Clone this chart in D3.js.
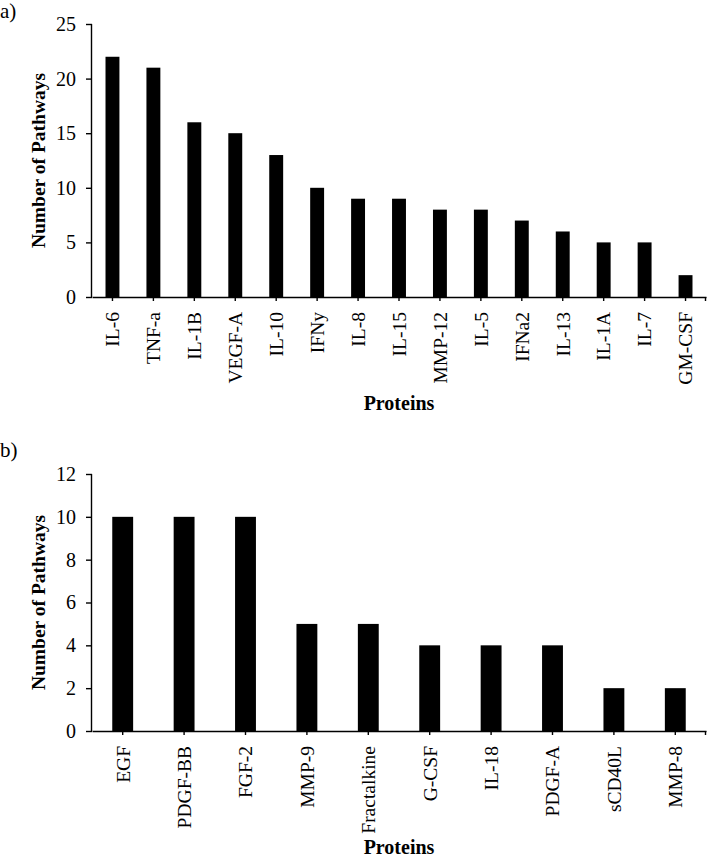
<!DOCTYPE html>
<html><head><meta charset="utf-8">
<script src="https://cdn.jsdelivr.net/npm/d3@7"></script>
<style>
body{margin:0;background:#fff;}
text{font-family:"Liberation Serif","Times New Roman",serif;fill:#000;}
</style></head>
<body><svg id="c" width="708" height="859"></svg>
<script>
const proteinsA = ["IL-6","TNF-a","IL-1B","VEGF-A","IL-10","IFNy","IL-8","IL-15","MMP-12","IL-5","IFNa2","IL-13","IL-1A","IL-7","GM-CSF"];
const pathwaysA = [22,21,16,15,13,10,9,9,8,8,7,6,5,5,2];
const ticksA = [0,5,10,15,20,25];

const proteinsB = ["EGF","PDGF-BB","FGF-2","MMP-9","Fractalkine","G-CSF","IL-18","PDGF-A","sCD40L","MMP-8"];
const pathwaysB = [10,10,10,5,5,4,4,4,2,2];
const ticksB = [0,2,4,6,8,10,12];

const svg = d3.select("#c");

function panel(cfg){
  const g = svg.append("g");
  const x = d3.scaleBand().domain(cfg.cats).range([92, 706]).paddingInner(0.66).paddingOuter(0.33);
  const y = d3.scaleLinear().domain([0, cfg.max]).range([cfg.y0, cfg.y1]);
  g.selectAll("rect").data(cfg.cats).join("rect")
    .attr("x", d => x(d)).attr("width", x.bandwidth())
    .attr("y", (d,i) => y(cfg.vals[i])).attr("height", (d,i) => y(0) - y(cfg.vals[i]))
    .attr("fill", "#000");
  const ya = g.append("g").attr("transform","translate(92,0)")
    .call(d3.axisLeft(y).tickValues(cfg.ticks).tickSize(6).tickPadding(10).tickFormat(d3.format("d")));
  ya.select(".domain").attr("stroke","#000").attr("stroke-width",1.4).attr("d", `M-0.5,${y(cfg.max)}V${y(0)}`);
  ya.selectAll(".tick line").attr("stroke","#000").attr("stroke-width",1.4);
  ya.selectAll(".tick text").attr("font-size",20).attr("font-family","Liberation Serif");
  const xa = g.append("g").attr("transform",`translate(0,${y(0)})`)
    .call(d3.axisBottom(x).tickSize(4).tickSizeOuter(0).tickPadding(0));
  xa.select(".domain").attr("stroke","#000").attr("stroke-width",1.4);
  xa.selectAll(".tick line").attr("stroke","#000").attr("stroke-width",1.4);
  xa.append("line").attr("x1",705.5).attr("x2",705.5).attr("y1",0).attr("y2",4).attr("stroke","#000").attr("stroke-width",1.4);
  xa.selectAll(".tick text")
    .attr("font-size",19.5).attr("font-family","Liberation Serif")
    .attr("text-anchor","end").attr("transform",`translate(0,${cfg.labOff}) rotate(-90)`)
    .attr("x",0).attr("y",0).attr("dy","0.35em");
  svg.append("text").attr("font-weight","bold").attr("font-size",19.5)
    .attr("text-anchor","middle")
    .attr("transform",`translate(45,${(y(0)+y(cfg.max))/2}) rotate(-90)`)
    .text("Number of Pathways");
  svg.append("text").attr("font-weight","bold").attr("font-size",20)
    .attr("text-anchor","middle").attr("x",399).attr("y",cfg.titleY)
    .text("Proteins");
  svg.append("text").attr("font-size",21).attr("x",0).attr("y",cfg.letterY).text(cfg.letter);
}

panel({cats:proteinsA, vals:pathwaysA, ticks:ticksA, max:25, y0:297, y1:24, labOff:15, titleY:410, letterY:18, letter:"a)"});
panel({cats:proteinsB, vals:pathwaysB, ticks:ticksB, max:12, y0:731, y1:474, labOff:15, titleY:854, letterY:457, letter:"b)"});
</script></body></html>
